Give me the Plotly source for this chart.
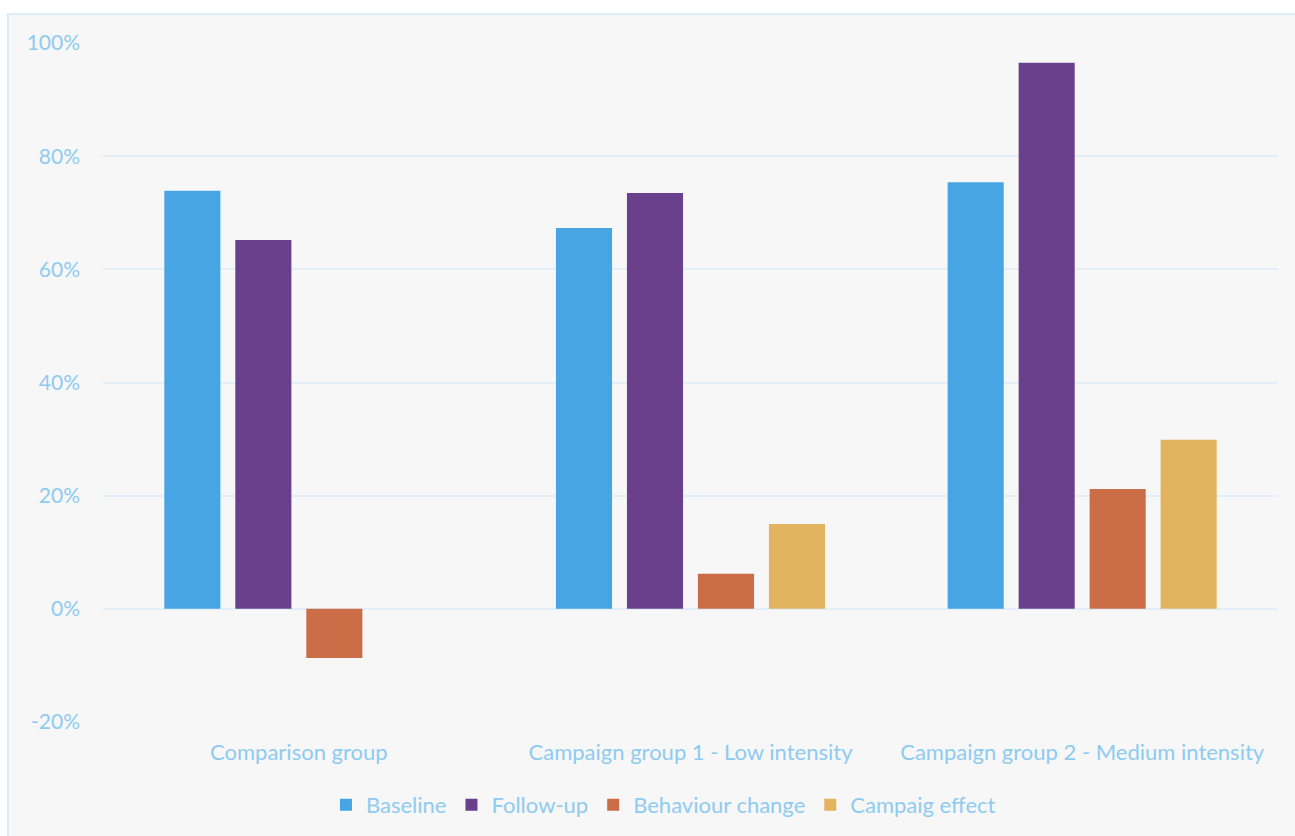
import plotly.graph_objects as go

# Survey groups and measured shares (%)
categories = ["Comparison group", "Campaign group 1 - Low intensity", "Campaign group 2 - Medium intensity"]
baseline = [73.9, 67.3, 75.4]
follow_up = [65.2, 73.5, 96.5]
behaviour_change = [-8.7, 6.2, 21.2]
campaign_effect = [None, 15.0, 29.9]

y_ticks = [-20, 0, 20, 40, 60, 80, 100]
y_tick_labels = ["-20%", "0%", "20%", "40%", "60%", "80%", "100%"]

series = [
    ("Baseline", baseline, "#47a5e4"),
    ("Follow-up", follow_up, "#6a3f8c"),
    ("Behaviour change", behaviour_change, "#cb6e47"),
    ("Campaig effect", campaign_effect, "#e2b45f"),
]

text_color = "#8ecbf0"
grid_color = "#e2eef9"
font_family = "Lato, 'Open Sans', sans-serif"

fig = go.Figure()
for name, values, color in series:
    fig.add_trace(go.Bar(
        x=categories, y=values, name=name,
        marker=dict(color=color, line=dict(width=0)),
    ))

W, H = 1295, 836
ml, mr, mt, mb = 103, 17, 43, 114
pw, ph = W - ml - mr, H - mt - mb

# Light grey panel with a pale blue frame behind the chart
x0 = (8 - ml) / pw
y1 = (H - 14 - mb) / ph
fig.add_shape(type="rect", xref="paper", yref="paper",
              x0=x0, x1=(W + 5 - ml) / pw, y0=(-mb - 5) / ph, y1=y1,
              fillcolor="#f7f7f7", line=dict(color="#dcebf8", width=2), layer="below")

fig.update_layout(
    width=W, height=H,
    margin=dict(l=ml, r=mr, t=mt, b=mb, autoexpand=False),
    paper_bgcolor="white",
    plot_bgcolor="rgba(0,0,0,0)",
    barmode="group",
    bargap=0.275,
    bargroupgap=0.21,
    font=dict(family=font_family, size=22, color=text_color),
    showlegend=True,
    legend=dict(orientation="h", x=0.477, xanchor="center", y=-0.122, yanchor="middle",
                font=dict(size=22, color=text_color), itemwidth=30,
                traceorder="normal", bgcolor="rgba(0,0,0,0)"),
    xaxis=dict(showgrid=False, showline=False, ticks="", tickfont=dict(size=22, color=text_color),
               ticklabelstandoff=15, automargin=False),
    yaxis=dict(range=[-20, 100], tickmode="array", tickvals=y_ticks, ticktext=y_tick_labels,
               showgrid=True, gridcolor=grid_color, gridwidth=2, zeroline=True,
               zerolinecolor=grid_color, zerolinewidth=2, showline=False, ticks="",
               ticklabelstandoff=22, tickfont=dict(size=21, color=text_color), automargin=False),
)

fig.write_html("out.html")
